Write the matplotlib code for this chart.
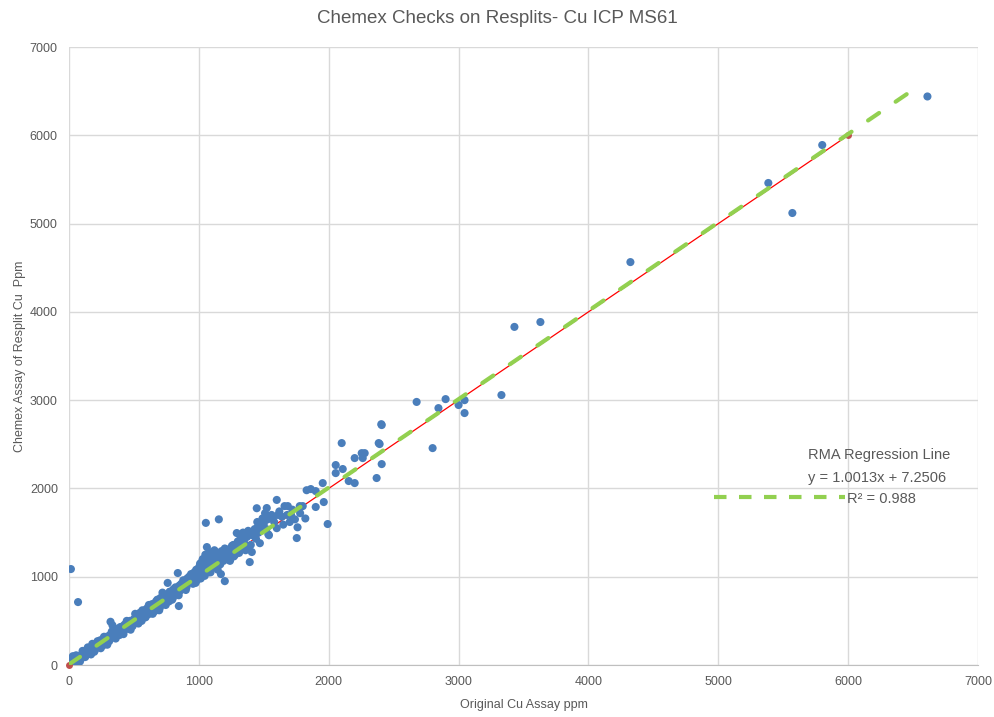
import matplotlib
matplotlib.use("Agg")
import matplotlib.pyplot as plt
from matplotlib.lines import Line2D

# ---------------- data ----------------
orig_cu = [
    5, 10, 15, 20, 30, 35, 45, 50, 60, 75, 90, 100, 110, 120, 130, 140, 150, 155, 165, 175,
    180, 190, 200, 205, 215, 225, 235, 240, 250, 260, 265, 275, 285, 290, 300, 310, 315, 320,
    325, 335, 340, 350, 355, 365, 375, 380, 390, 400, 410, 415, 425, 430, 440, 450, 455, 465,
    470, 480, 490, 500, 505, 515, 520, 530, 540, 545, 555, 560, 570, 580, 585, 595, 600, 610,
    620, 625, 635, 640, 650, 660, 665, 675, 680, 690, 700, 705, 715, 720, 730, 740, 750, 755,
    765, 770, 780, 790, 800, 805, 815, 820, 830, 840, 850, 855, 865, 870, 880, 890, 895, 905,
    910, 920, 925, 935, 940, 950, 955, 965, 970, 980, 985, 990, 1000, 1000, 1005, 1010, 1015,
    1020, 1025, 1030, 1035, 1040, 1045, 1050, 1055, 1060, 1065, 1070, 1075, 1080, 1085, 1090,
    1095, 1100, 1105, 1110, 1120, 1125, 1130, 1140, 1145, 1150, 1160, 1165, 1175, 1180, 1190,
    1200, 1205, 1215, 1225, 1230, 1240, 1250, 1265, 1270, 1285, 1292, 1300, 1310, 1320, 1330,
    1340, 1350, 1360, 1370, 1380, 1392, 1400, 1408, 1410, 1430, 1440, 1446, 1450, 1460, 1470,
    1480, 1490, 1500, 1510, 1520, 1523, 1530, 1540, 1560, 1580, 1600, 1600, 1620, 1640, 1660,
    1680, 1685, 1700, 1720, 1740, 1754, 1760, 1777, 1780, 1800, 1820, 1830, 1862, 1900, 1900,
    1954, 1962, 1992, 2054, 2054, 2100, 2108, 2154, 2200, 2200, 2254, 2262, 2277, 2369, 2385,
    2392, 2405, 2408, 2408, 2677, 2800, 2845, 2900, 3000, 3046, 3046, 3330, 3430, 3630, 4323,
    5385, 5570, 5800, 6610,
    15, 70, 760, 838, 846, 1054, 1062, 1154, 1170, 1200,
    25, 55, 85, 105, 125, 145, 170, 195, 220, 245, 270, 295, 330, 360, 395, 420, 445, 475,
    510, 535, 565, 590, 615, 645, 670, 695, 725, 745, 775, 795, 825, 845, 875, 900, 930,
    960, 975, 995, 1008, 1018, 1028, 1038, 1048, 1058, 1068, 1078, 1088, 1098, 1115, 1135,
    1155, 1170, 1185, 1210, 1235, 1255, 1280, 1315, 1345, 1375, 1420, 1455, 1495, 1535,
    1570, 1610, 1650, 1710,
]
resplit_cu = [
    10, 60, 20, 30, 100, 60, 10, 40, 90, 70, 110, 80, 130, 100, 150, 120, 170, 130, 190, 150,
    240, 200, 170, 230, 200, 260, 210, 280, 240, 220, 300, 260, 250, 320, 290, 270, 340, 490,
    310, 450, 360, 330, 380, 350, 410, 370, 340, 420, 390, 440, 400, 460, 430, 410, 480, 450,
    500, 470, 440, 520, 490, 540, 480, 560, 520, 590, 540, 500, 600, 570, 620, 560, 640, 600,
    580, 660, 620, 690, 640, 610, 700, 660, 740, 700, 650, 760, 720, 820, 690, 760, 730, 800,
    780, 720, 830, 800, 760, 860, 820, 880, 800, 860, 900, 840, 920, 880, 960, 900, 940, 880,
    980, 950, 1000, 960, 1030, 990, 920, 1050, 1010, 1080, 960, 1040, 1100, 1000, 1060, 1150, 980,
    1120, 1040, 1200, 1090, 1160, 1010, 1250, 1120, 1060, 1180, 1230, 1100, 1280, 1150, 1050,
    1200, 1130, 1260, 1190, 1300, 1110, 1240, 1170, 1080, 1270, 1210, 1140, 1290, 1230, 1180,
    1320, 1260, 1200, 1300, 1240, 1180, 1280, 1360, 1230, 1310, 1495, 1400, 1270, 1460, 1340,
    1500, 1380, 1300, 1450, 1520, 1166, 1360, 1280, 1470, 1540, 1430, 1776, 1620, 1500, 1380,
    1560, 1660, 1600, 1720, 1540, 1778, 1650, 1470, 1700, 1620, 1550, 1870, 1740, 1680, 1800,
    1700, 1800, 1620, 1760, 1650, 1438, 1560, 1800, 1720, 1800, 1660, 1980, 1993, 1970, 1790,
    2061, 1846, 1597, 2265, 2174, 2514, 2220, 2084, 2344, 2061, 2400, 2344, 2400, 2118, 2514,
    2503, 2728, 2718, 2276, 2980, 2457, 2910, 3012, 2945, 3000, 2854, 3058, 3830, 3885, 4564,
    5460, 5120, 5890, 6440,
    1087, 713, 930, 1042, 668, 1610, 1336, 1650, 1030, 950,
    5, 110, 40, 160, 90, 200, 120, 150, 270, 190, 320, 230, 380, 300, 430, 350, 500, 400,
    580, 470, 620, 540, 680, 580, 720, 620, 790, 680, 830, 740, 870, 790, 900, 850, 980,
    1010, 930, 1060, 1130, 1070, 1180, 1110, 1210, 1090, 1140, 1050, 1240, 1160, 1210, 1250,
    1180, 1260, 1230, 1310, 1190, 1350, 1250, 1380, 1420, 1330, 1490, 1560, 1600, 1480,
    1660, 1700, 1590, 1700,
]

one_to_one_x = [0, 6000]
one_to_one_y = [0, 6000]

rma_slope = 1.0013
rma_intercept = 7.2506
rma_r2 = 0.988
rma_x = [0, 6500]

axis_ticks = [0, 1000, 2000, 3000, 4000, 5000, 6000, 7000]

# ---------------- styling ----------------
FONT = ["Liberation Sans", "DejaVu Sans"]
plt.rcParams["font.family"] = FONT
TXT = "#595959"
GRID = "#d9d9d9"
BLUE = "#4a7ebb"
GREEN = "#92d050"

fig = plt.figure(figsize=(9.95, 7.17), dpi=100)
ax = fig.add_axes([0.0693, 0.0725, 0.9137, 0.8619])

ax.plot(one_to_one_x, one_to_one_y, color="#ff0000", lw=0.9, zorder=2)
ax.plot(one_to_one_x, one_to_one_y, linestyle="none", zorder=4, marker="o", markersize=5,
        markerfacecolor="#c0504d", markeredgecolor="none", clip_on=False)

ax.scatter(orig_cu, resplit_cu, s=34, color=BLUE, edgecolors="none", zorder=3)

rma_y = [rma_slope * v + rma_intercept for v in rma_x]
ax.plot(rma_x, rma_y, color=GREEN, lw=3.0, dashes=(3.2, 4.8),
        dash_capstyle="round", solid_capstyle="round", zorder=5)

ax.set_xlim(0, 7000)
ax.set_ylim(0, 7000)
ax.set_xticks(axis_ticks)
ax.set_yticks(axis_ticks)
ax.grid(True, color=GRID, lw=1.0, zorder=0)
ax.set_axisbelow(True)
for side in ["top", "right", "left"]:
    ax.spines[side].set_visible(False)
ax.spines["bottom"].set_color("#bfbfbf")
ax.tick_params(length=0, labelsize=9, labelcolor=TXT, pad=8)

ax.set_xlabel("Original Cu Assay ppm", fontsize=9, color=TXT, labelpad=8)
ax.set_ylabel("Chemex Assay of Resplit Cu  Ppm", fontsize=9, color=TXT, labelpad=3)
fig.text(0.5, 0.974, "Chemex Checks on Resplits- Cu ICP MS61", ha="center", va="center",
         fontsize=13.5, color=TXT)

# legend-like annotation for the RMA line
fig.text(808 / 995, 1 - 455 / 717, "RMA Regression Line", ha="left", va="center",
         fontsize=10.5, color=TXT)
fig.text(808 / 995, 1 - 478 / 717, f"y = {rma_slope}x + {rma_intercept}", ha="left",
         va="center", fontsize=10.5, color=TXT)
fig.text(847 / 995, 1 - 499 / 717, f"R\u00b2 = {rma_r2}", ha="left", va="center",
         fontsize=10.5, color=TXT)
fig.add_artist(Line2D([714 / 995, 845 / 995], [1 - 497 / 717, 1 - 497 / 717],
                      transform=fig.transFigure, color=GREEN, lw=3.0, dashes=(3.0, 3.0)))

fig.savefig("out.png", dpi=100)
